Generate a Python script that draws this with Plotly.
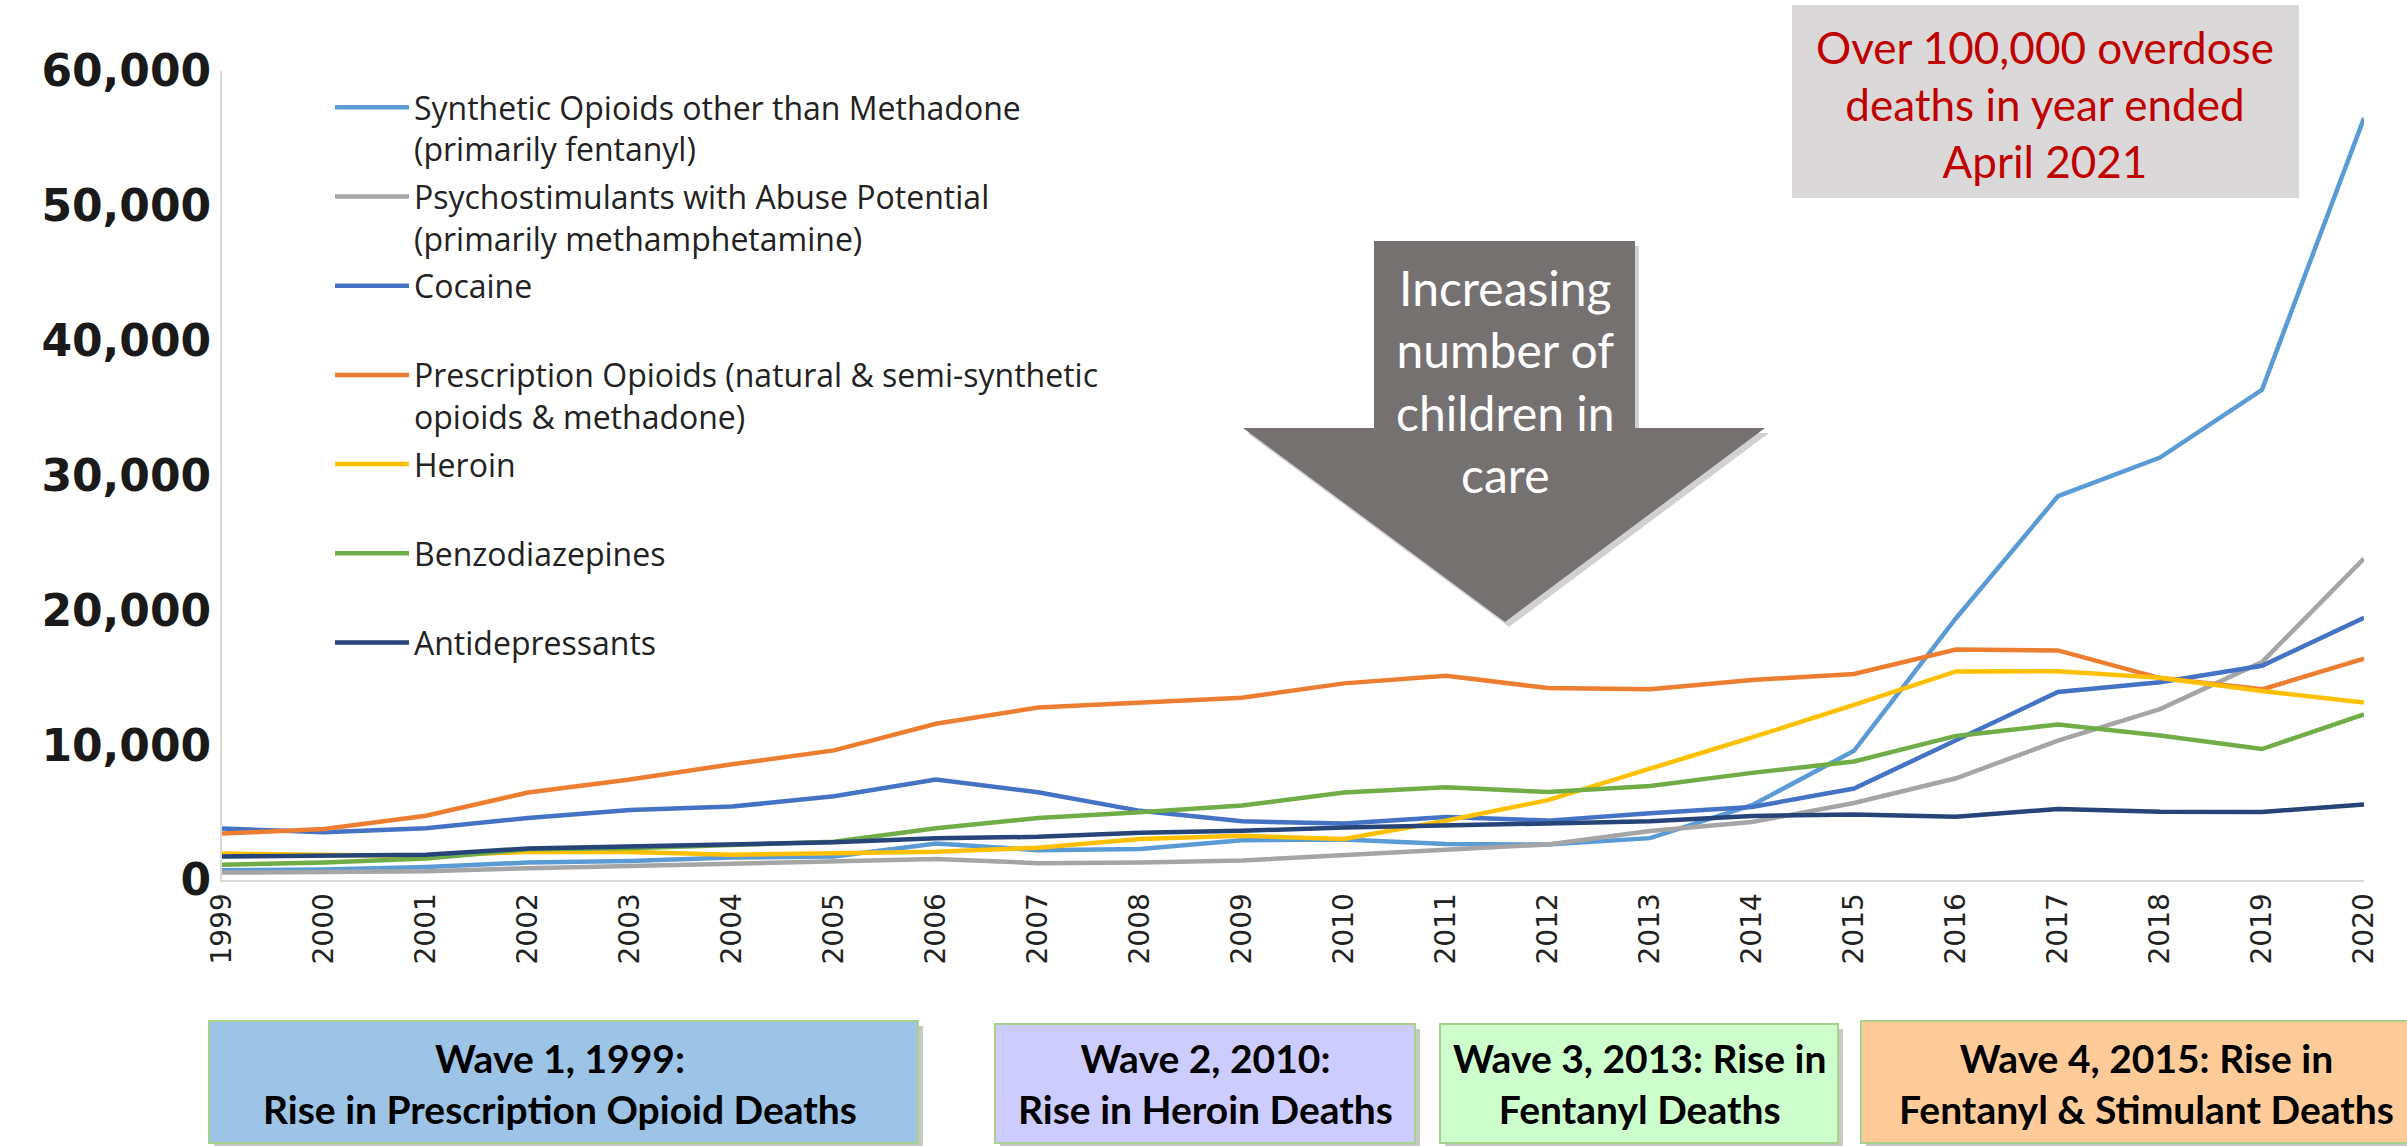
import plotly.graph_objects as go

# ---------------- data ----------------
years = list(range(1999, 2021))

synthetic_opioids = [730, 782, 957, 1295, 1400, 1664, 1742, 2707, 2213, 2306, 2946,
                     3007, 2666, 2628, 3105, 5544, 9580, 19413, 28466, 31335, 36359, 56516]
psychostimulants = [547, 578, 650, 872, 1050, 1250, 1450, 1550, 1250, 1300, 1450,
                    1854, 2266, 2635, 3627, 4298, 5716, 7542, 10333, 12676, 16167, 23837]
cocaine = [3822, 3544, 3833, 4599, 5199, 5443, 6208, 7448, 6512, 5129, 4350,
           4183, 4681, 4404, 4944, 5415, 6784, 10375, 13942, 14666, 15883, 19447]
rx_opioids = [3442, 3785, 4770, 6483, 7456, 8577, 9612, 11589, 12796, 13149, 13523,
              14583, 15140, 14240, 14145, 14838, 15281, 17087, 17029, 14975, 14139, 16416]
heroin = [1960, 1842, 1779, 2089, 2080, 1878, 2009, 2088, 2399, 3041, 3278,
          3036, 4397, 5925, 8257, 10574, 12989, 15469, 15482, 14996, 14019, 13165]
benzodiazepines = [1135, 1298, 1594, 2279, 2358, 2586, 2834, 3835, 4602, 5020, 5518,
                   6497, 6872, 6524, 6973, 7945, 8791, 10684, 11537, 10724, 9711, 12290]
antidepressants = [1749, 1803, 1880, 2340, 2480, 2700, 2800, 3100, 3200, 3500, 3650,
                   3889, 4050, 4150, 4350, 4750, 4850, 4700, 5269, 5064, 5050, 5597]

series_names = [
    "Synthetic Opioids other than Methadone<br>(primarily fentanyl)",
    "Psychostimulants with Abuse Potential<br>(primarily methamphetamine)",
    "Cocaine<br> ",
    "Prescription Opioids (natural & semi-synthetic<br>opioids & methadone)",
    "Heroin<br> ",
    "Benzodiazepines<br> ",
    "Antidepressants<br> ",
]
series_values = [synthetic_opioids, psychostimulants, cocaine, rx_opioids,
                 heroin, benzodiazepines, antidepressants]
series_colors = ["#5B9BD5", "#A5A5A5", "#4472C4", "#ED7D31", "#FFC000", "#70AD47", "#264478"]

y_tick_values = [0, 10000, 20000, 30000, 40000, 50000, 60000]
y_tick_labels = ["0", "10,000", "20,000", "30,000", "40,000", "50,000", "60,000"]
x_tick_labels = [str(y) for y in years]

wave_texts = [
    "Wave 1, 1999:<br>Rise in Prescription Opioid Deaths",
    "Wave 2, 2010:<br>Rise in Heroin Deaths",
    "Wave 3, 2013: Rise in<br>Fentanyl Deaths",
    "Wave 4, 2015: Rise in<br>Fentanyl & Stimulant Deaths",
]
wave_colors = ["#9DC3E6", "#CCCCFF", "#CCFFCC", "#FFCC99"]

callout_text = "Over 100,000 overdose<br>deaths in year ended<br>April 2021"
arrow_text = "Increasing<br>number of<br>children in<br>care"

# ---------------- layout geometry (pixels) ----------------
W, H = 2407, 1146
L, R, T, B = 222, 43, 71, 266
PW = W - L - R
PH = H - T - B


def fx(px):
    return (px - L) / PW


def fy(py):
    return (H - B - py) / PH


fig = go.Figure()
for name, vals, col in zip(series_names, series_values, series_colors):
    fig.add_trace(go.Scatter(
        x=years, y=vals, mode="lines", name=name, legendgroup=name,
        line=dict(color=col, width=4.5),
        hoverinfo="skip",
    ))

shapes = []
annotations = []

# wave boxes at bottom: (left, right, top, text centre x)
wave_boxes = [(209, 918, 1021, 560), (995, 1415, 1024, 1205),
              (1440, 1838, 1024, 1639), (1861, 2430, 1021, 2146)]
for (x0, x1, y0, cx), txt, col in zip(wave_boxes, wave_texts, wave_colors):
    y1 = 1143
    shapes.append(dict(type="rect", xref="paper", yref="paper",
                       x0=fx(x0 + 5), x1=fx(x1 + 5), y0=fy(y1 + 5), y1=fy(y0 + 5),
                       fillcolor="rgba(0,0,0,0.22)", line=dict(width=0), layer="above"))
    shapes.append(dict(type="rect", xref="paper", yref="paper",
                       x0=fx(x0), x1=fx(x1), y0=fy(y1), y1=fy(y0),
                       fillcolor=col, line=dict(color="#A9D18E", width=2), layer="above"))
    annotations.append(dict(xref="paper", yref="paper", x=fx(cx), y=fy(1083),
                            xanchor="center", yanchor="middle", showarrow=False,
                            text="<b>" + txt + "</b>",
                            font=dict(family="Lato", size=39, color="#000000")))

# red callout box
shapes.append(dict(type="rect", xref="paper", yref="paper",
                   x0=fx(1792), x1=fx(2299), y0=fy(198), y1=fy(5),
                   fillcolor="#DAD8D8", line=dict(width=0), layer="above"))
annotations.append(dict(xref="paper", yref="paper", x=fx(2045), y=fy(104),
                        xanchor="center", yanchor="middle", showarrow=False,
                        text=callout_text,
                        font=dict(family="Lato", size=44, color="#C00000")))

# big down arrow
arrow_pts = [(1374, 241), (1635, 241), (1635, 428), (1765, 428), (1505, 622),
             (1243, 428), (1374, 428)]


def arrow_path(dx, dy):
    pts = ["{:.5f},{:.5f}".format(fx(x + dx), fy(y + dy)) for x, y in arrow_pts]
    return "M" + " L".join(pts) + " Z"


shapes.append(dict(type="path", xref="paper", yref="paper", path=arrow_path(4, 5),
                   fillcolor="rgba(0,0,0,0.18)", line=dict(width=0), layer="above"))
shapes.append(dict(type="path", xref="paper", yref="paper", path=arrow_path(0, 0),
                   fillcolor="#767171", line=dict(width=0), layer="above"))
annotations.append(dict(xref="paper", yref="paper", x=fx(1505), y=fy(381),
                        xanchor="center", yanchor="middle", showarrow=False,
                        text=arrow_text,
                        font=dict(family="Lato", size=48, color="#FFFFFF")))

fig.update_layout(
    width=W, height=H,
    margin=dict(l=L, r=R, t=T, b=B, pad=0),
    paper_bgcolor="white", plot_bgcolor="white",
    showlegend=True,
    legend=dict(
        x=fx(330), y=fy(80), xanchor="left", yanchor="top",
        bgcolor="rgba(0,0,0,0)", borderwidth=0,
        font=dict(family="Open Sans", size=32, color="#222222"),
        itemwidth=74, tracegroupgap=3, valign="top",
        itemclick=False, itemdoubleclick=False,
    ),
    xaxis=dict(
        range=[1999, 2020], tickmode="array", tickvals=years, ticktext=x_tick_labels,
        tickangle=-90, showgrid=False, zeroline=False,
        showline=True, linecolor="#D9D9D9", linewidth=2, ticks="",
        tickfont=dict(family="DejaVu Sans", size=28, color="#222222"),
    ),
    yaxis=dict(
        range=[0, 60000], tickmode="array", tickvals=y_tick_values, ticktext=y_tick_labels,
        showgrid=False, zeroline=False,
        showline=True, linecolor="#D9D9D9", linewidth=2, ticks="",
        tickfont=dict(family="DejaVu Sans", size=44, color="#1A1A1A", weight="bold"),
    ),
    shapes=shapes,
    annotations=annotations,
)

fig.write_html("out.html", config={"displayModeBar": False})
